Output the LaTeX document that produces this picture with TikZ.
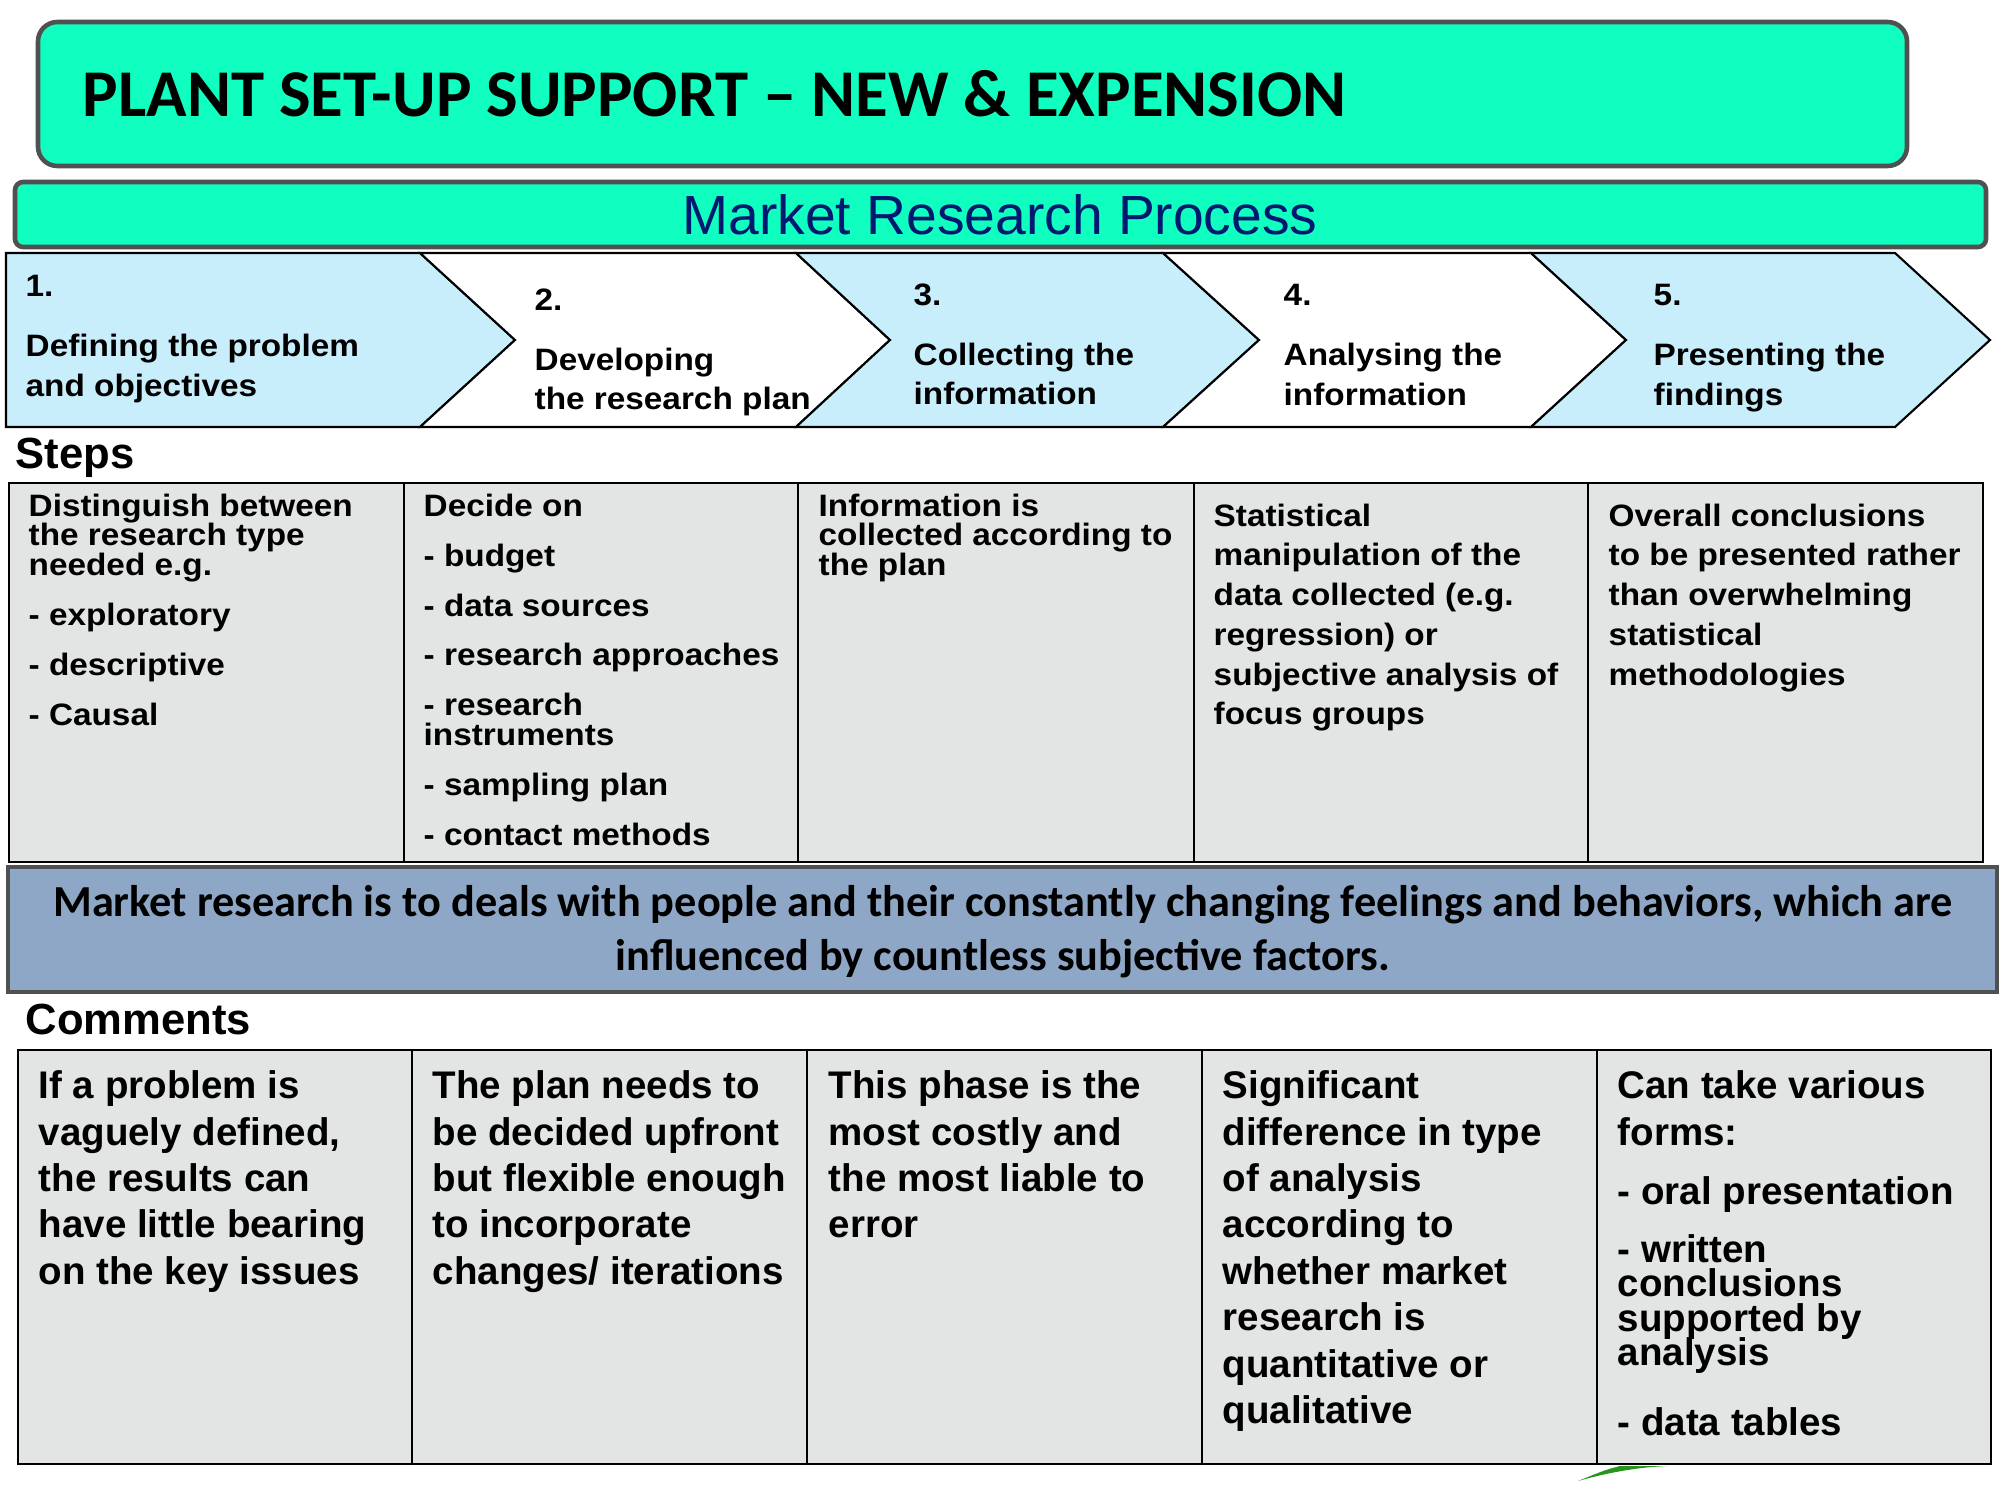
\documentclass[tikz,border=0pt]{standalone}
\usepackage{fontspec}
\setmainfont{Liberation Sans}
\newfontfamily\carlito{Carlito}
\newfontfamily\widefont[FakeStretch=1.077]{Liberation Sans}
\setlength{\lineskiplimit}{-20pt}
\definecolor{aquaCS}{RGB}{16,255,192}
\definecolor{frameGray}{RGB}{80,80,80}
\definecolor{navyTxt}{RGB}{0,24,112}
\definecolor{paleBlue}{RGB}{200,237,251}
\definecolor{cellGray}{RGB}{227,228,228}
\definecolor{bandBlue}{RGB}{143,167,198}
\definecolor{leafGreen}{RGB}{40,150,30}

\begin{document}
\begin{tikzpicture}[x=0.01cm,y=-0.01cm,
    banner/.style={draw=frameGray,line width=1.3pt,fill=aquaCS},
    chev/.style={draw=black,line width=0.6pt},
    chevtxt/.style={anchor=north west,inner sep=0pt,align=left,font=\widefont\bfseries\fontsize{8.8}{11.2}\selectfont},
    tablebox/.style={draw=black,line width=0.6pt,fill=cellGray},
    steptxt/.style={anchor=north west,inner sep=0pt,align=left,font=\widefont\bfseries\fontsize{8.8}{8.4}\selectfont},
    stepwide/.style={steptxt,font=\widefont\bfseries\fontsize{8.8}{11.3}\selectfont},
    comtxt/.style={anchor=north west,inner sep=0pt,align=left,font=\bfseries\fontsize{10.95}{13.2}\selectfont},
    heading/.style={anchor=base west,inner sep=0pt,font=\bfseries\fontsize{12.4}{14}\selectfont}
  ]
    \useasboundingbox (0,0) rectangle (2000,1500);
    \draw[banner,rounded corners=5.5pt] (38,22) rectangle (1907,166);
    \node[anchor=base west,inner sep=0pt,font=\carlito\bfseries\fontsize{19}{21}\selectfont] (title) at (82,117) {PLANT SET-UP SUPPORT – NEW \& EXPENSION};
    \draw[banner,rounded corners=2.3pt] (15,182) rectangle (1986,247);
    \node[anchor=base,inner sep=0pt,text=navyTxt,font=\fontsize{15.7}{18}\selectfont] (sub) at (1000,235) {Market Research Process};

    \draw[chev,fill=paleBlue] (6,253) -- (420,253) -- (515,340) -- (420,427) -- (6,427) -- cycle;
    \draw[chev,fill=white] (420,253) -- (796,253) -- (890,340) -- (796,427) -- (420,427) -- (515,340) -- cycle;
    \draw[chev,fill=paleBlue] (796,253) -- (1163,253) -- (1259,340) -- (1163,427) -- (796,427) -- (890,340) -- cycle;
    \draw[chev,fill=white] (1163,253) -- (1531,253) -- (1626,340) -- (1531,427) -- (1163,427) -- (1259,340) -- cycle;
    \draw[chev,fill=paleBlue] (1531,253) -- (1895,253) -- (1990,340) -- (1895,427) -- (1531,427) -- (1626,340) -- cycle;
    \node[chevtxt] (c1) at (25,275) {1.\\[5.8pt]Defining the problem\\and objectives};
    \node[chevtxt] (c2) at (534,288) {2.\\[5.8pt]Developing\\the research plan};
    \node[chevtxt] (c3) at (913,283) {3.\\[5.8pt]Collecting the\\information};
    \node[chevtxt] (c4) at (1283,284) {4.\\[5.8pt]Analysing the\\information};
    \node[chevtxt] (c5) at (1653,284) {5.\\[5.8pt]Presenting the\\findings};

    \node[heading] (steps) at (15,468) {Steps};
    \draw[tablebox] (9,483) rectangle (1983,862);
    \draw[line width=0.6pt] (404,483) -- (404,862) (798,483) -- (798,862) (1194,483) -- (1194,862) (1588,483) -- (1588,862);
    \node[steptxt] (s1) at (28,493) {Distinguish between\\the research type\\needed e.g.\\[5.8pt]- exploratory\\[5.8pt]- descriptive\\[5.8pt]- Causal};
    \node[steptxt] (s2) at (423,493) {Decide on\\[5.8pt]- budget\\[5.8pt]- data sources\\[5.8pt]- research approaches\\[5.8pt]- research\\instruments\\[5.8pt]- sampling plan\\[5.8pt]- contact methods};
    \node[steptxt] (s3) at (818,493) {Information is\\collected according to\\the plan};
    \node[stepwide] (s4) at (1213,503) {Statistical\\manipulation of the\\data collected (e.g.\\regression) or\\subjective analysis of\\focus groups};
    \node[stepwide] (s5) at (1608,503) {Overall conclusions\\to be presented rather\\than overwhelming\\statistical\\methodologies};

    \draw[draw=frameGray,line width=1.3pt,fill=bandBlue] (8,867) rectangle (1997,992);
    \node[anchor=north,inner sep=0pt,align=center,font=\carlito\bfseries\fontsize{12.6}{15.4}\selectfont] (note) at (1003,885) {Market research is to deals with people and their constantly changing feelings and behaviors, which are\\influenced by countless subjective factors.};

    \node[heading] (comments) at (25,1034) {Comments};
    \draw[tablebox] (18,1050) rectangle (1991,1464);
    \draw[line width=0.6pt] (412,1050) -- (412,1464) (807,1050) -- (807,1464) (1202,1050) -- (1202,1464) (1597,1050) -- (1597,1464);
    \node[comtxt] (k1) at (38,1070) {If a problem is\\vaguely defined,\\the results can\\have little bearing\\on the key issues};
    \node[comtxt] (k2) at (432,1070) {The plan needs to\\be decided upfront\\but flexible enough\\to incorporate\\changes/ iterations};
    \node[comtxt] (k3) at (828,1070) {This phase is the\\most costly and\\the most liable to\\error};
    \node[comtxt] (k4) at (1222,1070) {Significant\\difference in type\\of analysis\\according to\\whether market\\research is\\quantitative or\\qualitative};
    \node[comtxt] (k5) at (1617,1070) {Can take various\\forms:\\[3.8pt]- oral presentation\\[3.2pt]- written\\[-3.4pt]conclusions\\[-3.4pt]supported by\\[-3.4pt]analysis\\[6.7pt]- data tables};
    \fill[leafGreen] (1578,1481) .. controls (1610,1472) and (1640,1467) .. (1668,1466) -- (1620,1466) .. controls (1605,1470) .. cycle;
  \end{tikzpicture}
\end{document}
